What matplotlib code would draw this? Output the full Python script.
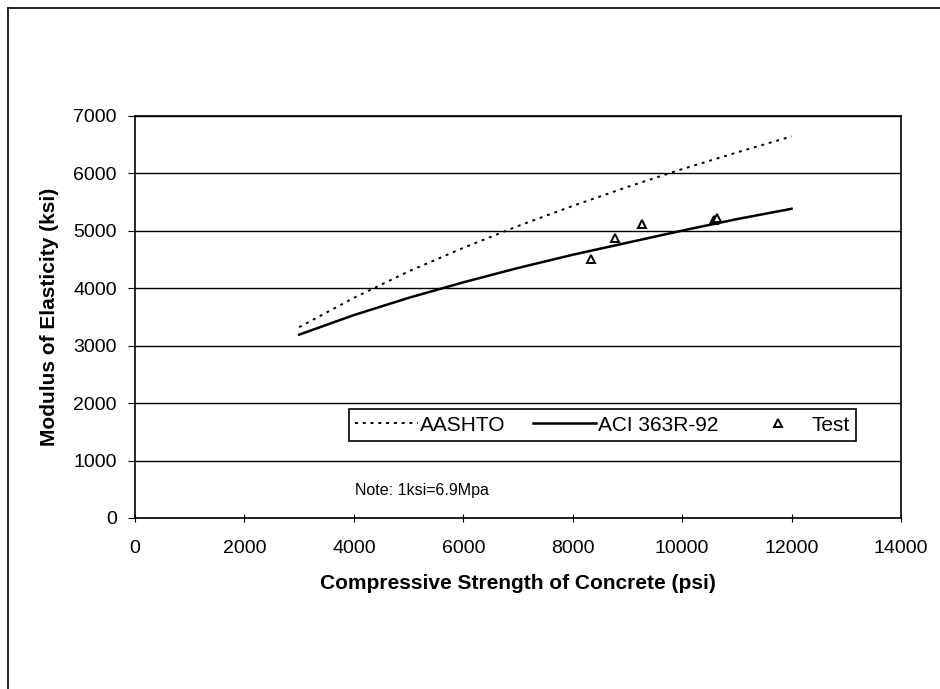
import matplotlib.pyplot as plt
from matplotlib.lines import Line2D

plt.rcParams['font.family'] = ['Liberation Sans', 'DejaVu Sans']

fc = [3000, 4000, 5000, 6000, 7000, 8000, 9000, 10000, 11000, 12000]
aashto = [3320, 3830, 4290, 4700, 5080, 5430, 5760, 6070, 6360, 6640]
aci = [3190, 3530, 3830, 4100, 4350, 4580, 4790, 5000, 5200, 5380]
test_fc = [8340, 8780, 9260, 10580, 10640]
test_e = [4510, 4870, 5110, 5180, 5220]


def main():
    fig = plt.figure(figsize=(9.4, 6.89), dpi=100)
    ax = fig.add_axes([0.1436, 0.2482, 0.8149, 0.5839])

    ax.plot(fc, aashto, color='black', lw=1.4, linestyle=(0, (1.5, 2.5)), label='AASHTO')
    ax.plot(fc, aci, color='black', lw=1.8, label='ACI 363R-92')
    ax.plot(test_fc, test_e, linestyle='none', marker='^', markersize=6,
            markerfacecolor='white', markeredgecolor='black', markeredgewidth=1.4, label='Test')

    ax.set_xlim(0, 14000)
    ax.set_ylim(0, 7000)
    ax.set_xticks(range(0, 14001, 2000))
    ax.set_yticks(range(0, 7001, 1000))
    ax.yaxis.grid(True, color='black', lw=1)
    ax.set_axisbelow(True)
    for s in ax.spines.values():
        s.set_linewidth(1.2)
    ax.tick_params(axis='x', direction='inout', length=6, labelsize=14, pad=13)
    ax.tick_params(axis='y', direction='out', length=5, labelsize=14, pad=8)

    ax.set_xlabel('Compressive Strength of Concrete (psi)', fontsize=15, fontweight='bold', labelpad=12)
    ax.set_ylabel('Modulus of Elasticity (ksi)', fontsize=15, fontweight='bold', labelpad=10)

    leg = ax.legend(loc='center', bbox_to_anchor=(0.61, 0.231), ncol=3, fontsize=15,
                    frameon=True, fancybox=False, edgecolor='black', framealpha=1,
                    handlelength=3.0, handletextpad=0.1, columnspacing=1.35,
                    borderpad=0.3, borderaxespad=0)
    leg.get_frame().set_linewidth(1.2)

    ax.text(4020, 470, 'Note: 1ksi=6.9Mpa', fontsize=11.5, va='center', ha='left')

    # outer chart frame (scanned page edges)
    fig.add_artist(Line2D([8 / 940, 8 / 940], [0.0, 1 - 8 / 689], color='black', lw=1.2))
    fig.add_artist(Line2D([8 / 940, 1.0], [1 - 8 / 689, 1 - 8 / 689], color='black', lw=1.2))

    fig.savefig('out.png', dpi=100)


if __name__ == '__main__':
    main()
